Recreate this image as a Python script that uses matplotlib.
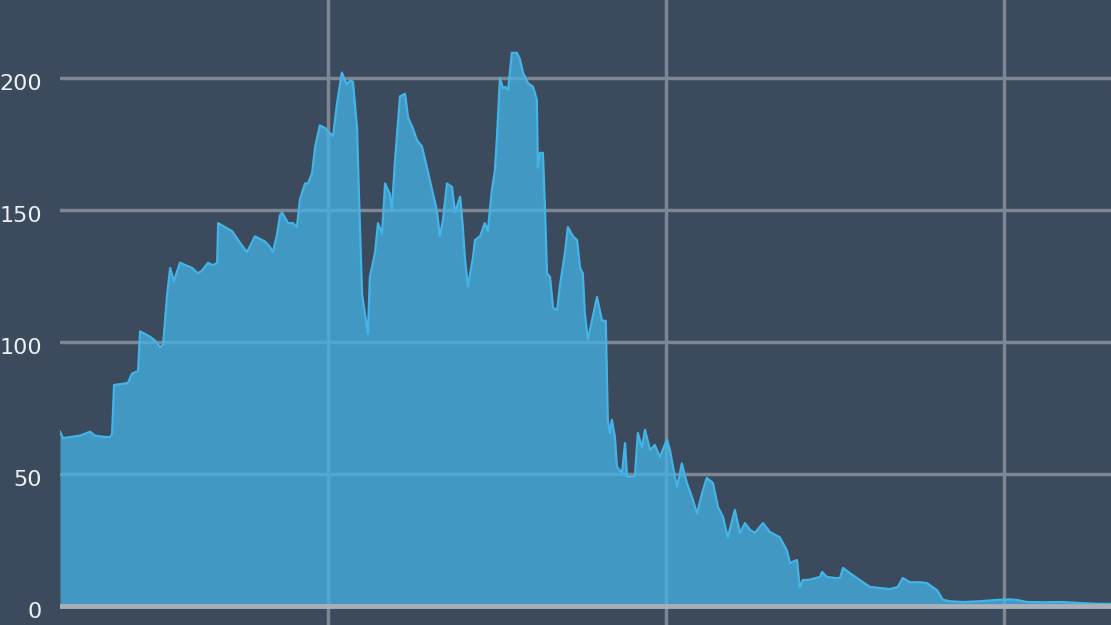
import matplotlib.pyplot as plt
import matplotlib.transforms as mtransforms

# values (x in arbitrary time units, gridlines every 100)
t = [20.7, 21.6, 23.7, 26.6, 29.6, 31.1, 34.0, 35.5, 36.1, 36.7, 38.5, 40.8, 42.0, 43.8,
     44.4, 45.9, 47.3, 48.8, 50.3, 51.2, 52.4, 53.3, 54.4, 56.2, 58.0, 59.8, 61.5, 62.7,
     64.5, 66.0, 67.2, 67.5, 69.5, 71.6, 74.0, 76.0, 78.4, 79.9, 81.4, 82.8, 83.7, 84.9,
     85.8, 86.4, 88.2, 89.6, 90.8, 91.7, 93.2, 94.1, 95.3, 96.2, 97.6, 99.1, 100.6, 101.5,
     102.7, 104.1, 105.6, 106.5, 107.4, 108.6, 109.2, 110.1, 110.9, 111.8, 112.4, 113.9,
     114.8, 116.0, 116.9, 118.3, 118.9, 119.8, 121.3, 122.8, 123.7, 125.1, 126.3, 127.8,
     129.3, 130.8, 132.2, 133.1, 134.0, 135.2, 136.7, 137.6, 139.1, 139.9, 140.5, 141.4,
     142.9, 143.5, 145.0, 146.4, 147.3, 148.5, 149.4, 150.0, 150.9, 151.8, 152.4, 153.3,
     153.8, 154.4, 155.9, 156.8, 157.7, 159.2, 160.7, 161.8, 162.1, 162.7, 163.6, 164.2,
     164.8, 165.7, 166.6, 167.8, 168.6, 170.1, 171.0, 172.5, 173.7, 174.6, 175.4, 176.0,
     176.9, 178.1, 179.6, 181.1, 182.2, 182.8, 183.4, 184.0, 184.9, 185.5, 187.0, 187.9,
     188.5, 189.9, 190.8, 191.7, 192.9, 193.8, 195.3, 196.7, 198.2, 200.3, 201.2, 202.1,
     203.3, 204.7, 206.2, 207.7, 209.2, 210.7, 212.1, 213.9, 215.4, 216.9, 218.3, 220.4,
     221.9, 223.4, 224.9, 226.3, 228.7, 230.8, 233.7, 235.8, 236.7, 238.8, 239.6, 240.5,
     242.6, 245.6, 246.2, 247.6, 250.0, 251.5, 252.4, 254.4, 257.4, 260.4, 263.3, 266.3,
     268.6, 270.1, 272.2, 275.1, 277.2, 280.2, 282.0, 284.0, 287.9, 292.9, 297.9, 301.8,
     303.8, 306.8, 312.1, 317.5, 322.5, 328.4, 331.7]
values = [66, 63.6, 64, 64.5, 66, 64.5, 64, 64, 65, 83.7, 84, 84.5, 88, 89,
          104, 103, 102, 100.5, 98, 99, 118, 128, 123, 130, 129, 128, 126, 127,
          130, 129, 130, 145, 143.5, 142, 137.5, 134, 140, 139, 138, 136, 134, 140.5,
          148, 149, 145, 145, 143.5, 154, 160, 160, 164, 174, 182, 181, 179, 178,
          190.5, 202, 197.5, 199, 198.5, 181, 154, 118, 111, 103, 124.6, 133.7,
          145, 141, 160, 156, 150, 168, 193, 194, 185, 181, 176.5, 174,
          166, 157.6, 150, 140, 146, 160, 158.7, 149, 155, 143.5, 132, 121,
          132, 138.6, 140, 145, 142, 157.6, 165, 177.7, 200, 196, 196.6, 195.5,
          202, 209.5, 209.5, 207, 202, 198, 196.6, 191.7, 166, 171.6, 171.6, 151,
          126, 124.6, 113, 112, 121, 133.7, 143.5, 140, 138.6, 128, 126, 111,
          100.8, 108, 117, 108, 108, 70.5, 65.5, 70.5, 64, 52.7, 50.4, 61.7,
          49, 49, 49, 65.5, 60, 66.7, 59, 61, 56.4, 63, 59, 52.7,
          45, 54, 46.6, 41.3, 35, 42.8, 48.5, 46.6, 37.5, 33.7, 26, 36.4,
          27.7, 31.4, 28.8, 27.7, 31.4, 28, 26, 21, 16.3, 17.4, 7, 9.8,
          10, 11, 12.9, 11, 10.6, 10.6, 14.4, 12.5, 9.8, 7.2, 6.8, 6.4,
          7.2, 10.6, 9, 9, 8.7, 6, 2.3, 1.8, 1.5, 1.8, 2.3, 2.5,
          2.3, 1.5, 1.4, 1.5, 1.1, 0.8, 0.8]
y_ticks = [0, 50, 100, 150, 200]
x_grid = [100, 200, 300]

bg = '#3c4a5d'
line_color = '#44b3e6'

fig = plt.figure(figsize=(11.11, 6.25), dpi=100, facecolor=bg)
ax = fig.add_axes([60 / 1111, 0, 1 - 60 / 1111, 1])
ax.set_facecolor(bg)

ax.fill_between(t, values, 0, color=line_color, alpha=0.75, linewidth=0, zorder=2)
ax.plot(t, values, color=line_color, linewidth=1.6, zorder=3)
ax.axhline(0, color='#a9afb6', linewidth=3.5, zorder=4)

ax.set_xlim(20.7, 331.7)
ax.set_ylim(-7.2, 229.5)
ax.set_yticks(y_ticks)
ax.set_xticks(x_grid)
ax.grid(True, color='#7d8794', linewidth=2.5, zorder=1)
ax.set_axisbelow(True)
ax.tick_params(axis='both', length=0, labelleft=False, labelbottom=False)
for s in ax.spines.values():
    s.set_visible(False)

# y labels drawn by hand: right edge 18 px left of the plot, a bit below the gridline
lab_tr = mtransforms.blended_transform_factory(ax.transAxes, ax.transData) + \
    mtransforms.ScaledTranslation(-18 / 100, -6 / 100, fig.dpi_scale_trans)
for v in y_ticks:
    ax.text(0, v, str(v), transform=lab_tr, ha='right', va='center',
            fontsize=16, color='#eef1f3', clip_on=False)

fig.savefig('out.png', dpi=100, facecolor=bg)
